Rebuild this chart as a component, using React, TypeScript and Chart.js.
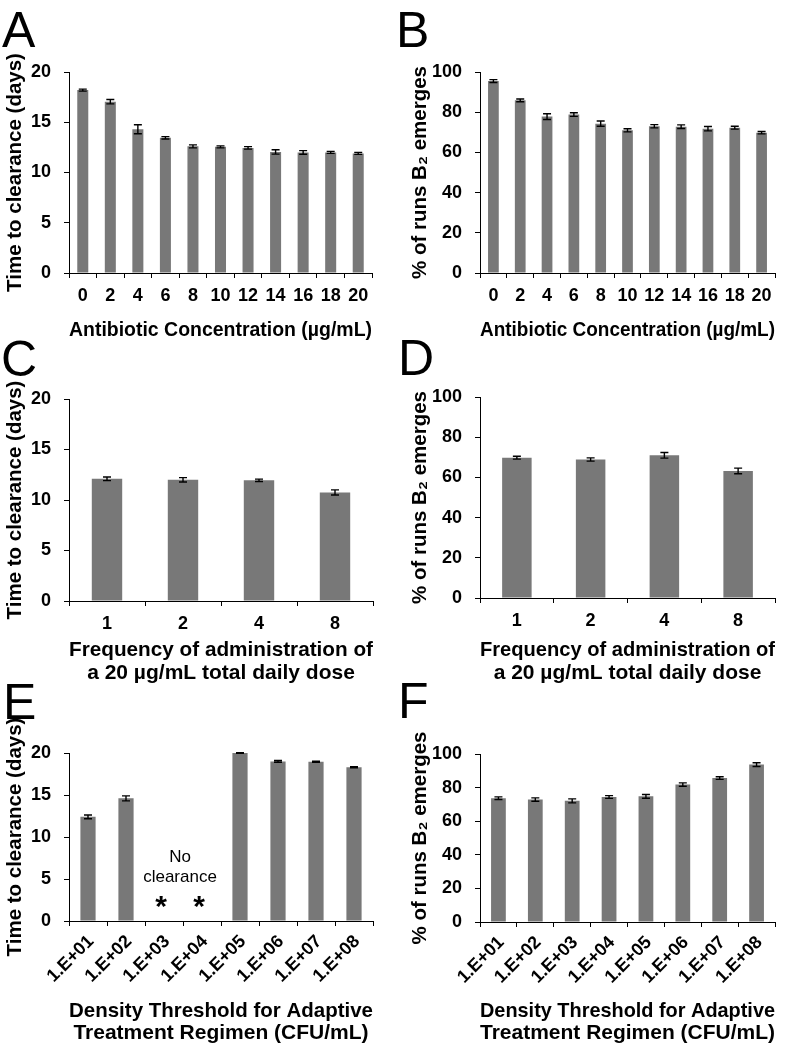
import React, { useEffect, useRef } from "react";
import { Chart, registerables } from "chart.js";

Chart.register(...registerables);

const FONT = "'Liberation Sans', Arial, Helvetica, sans-serif";

// ---------- data ----------
const concLabels = ["0", "2", "4", "6", "8", "10", "12", "14", "16", "18", "20"];
const clearanceByConc = [18.2, 17.05, 14.3, 13.45, 12.6, 12.55, 12.45, 12.05, 12.0, 12.0, 11.9];
const clearanceByConcErr = [0.1, 0.22, 0.45, 0.12, 0.15, 0.1, 0.12, 0.22, 0.18, 0.1, 0.1];
const emergeByConc = [95.5, 85.9, 77.8, 78.8, 74.3, 71.0, 73.0, 72.8, 71.8, 72.3, 69.8];
const emergeByConcErr = [0.7, 0.7, 1.4, 0.9, 1.3, 0.8, 0.8, 0.9, 1.1, 0.7, 0.6];

const freqLabels = ["1", "2", "4", "8"];
const clearanceByFreq = [12.1, 12.0, 11.95, 10.75];
const clearanceByFreqErr = [0.18, 0.22, 0.12, 0.25];
const emergeByFreq = [69.8, 68.9, 71.0, 63.2];
const emergeByFreqErr = [0.7, 0.8, 1.4, 1.4];

const thresholdLabels = ["1.E+01", "1.E+02", "1.E+03", "1.E+04", "1.E+05", "1.E+06", "1.E+07", "1.E+08"];
const clearanceByThreshold: (number | null)[] = [12.4, 14.6, null, null, 20.0, 19.0, 18.95, 18.3];
const clearanceByThresholdErr = [0.22, 0.3, 0, 0, 0.03, 0.1, 0.07, 0.07];
const emergeByThreshold = [73.7, 72.9, 72.1, 74.4, 74.8, 81.8, 85.7, 93.7];
const emergeByThresholdErr = [0.8, 1.0, 1.2, 0.8, 1.1, 1.0, 0.8, 1.1];

const clearanceTitle = "Time to clearance (days)";
const emergeTitle = "% of runs B\u2082 emerges";
const concTitle = "Antibiotic Concentration (\u00b5g/mL)";
const freqTitle = ["Frequency of administration of", "a 20 \u00b5g/mL total daily dose"];
const thresholdTitle = ["Density Threshold for Adaptive", "Treatment Regimen (CFU/mL)"];

// ---------- plugins ----------
const errorBarPlugin = {
  id: "errorBars",
  afterDatasetsDraw(chart: any, _args: any, opts: any) {
    const errs: number[] = opts && opts.errors;
    if (!errs) return;
    const meta = chart.getDatasetMeta(0);
    const y = chart.scales.y;
    const ctx = chart.ctx;
    const data = chart.data.datasets[0].data;
    ctx.save();
    ctx.strokeStyle = "#000";
    ctx.lineWidth = 1.4;
    meta.data.forEach((bar: any, i: number) => {
      const v = data[i];
      if (v == null) return;
      const e = errs[i] || 0;
      const top = y.getPixelForValue(v + e);
      const bot = y.getPixelForValue(v - e);
      const x = bar.x;
      ctx.beginPath();
      ctx.moveTo(x, top);
      ctx.lineTo(x, bot);
      ctx.moveTo(x - 4, top);
      ctx.lineTo(x + 4, top);
      ctx.moveTo(x - 4, bot);
      ctx.lineTo(x + 4, bot);
      ctx.stroke();
    });
    ctx.restore();
  },
};

const noClearancePlugin = {
  id: "noClearance",
  afterDraw(chart: any, _args: any, opts: any) {
    if (!opts || !opts.enabled) return;
    const data = chart.data.datasets[0].data;
    const idx: number[] = [];
    data.forEach((v: any, i: number) => {
      if (v == null) idx.push(i);
    });
    if (!idx.length) return;
    const x = chart.scales.x;
    const y = chart.scales.y;
    const ctx = chart.ctx;
    const xs = idx.map((i) => x.getPixelForValue(i) - 3);
    const cx = (xs[0] + xs[xs.length - 1]) / 2;
    ctx.save();
    ctx.fillStyle = "#000";
    ctx.textAlign = "center";
    ctx.textBaseline = "middle";
    ctx.font = `17px ${FONT}`;
    ctx.fillText("No", cx, y.getPixelForValue(7.6));
    ctx.fillText("clearance", cx, y.getPixelForValue(5.2));
    ctx.font = `bold 30px ${FONT}`;
    ctx.textBaseline = "alphabetic";
    const ay = y.getPixelForValue(2.5) + 16;
    xs.forEach((px) => ctx.fillText("*", px, ay));
    ctx.restore();
  },
};

// ---------- panels ----------
type Spec = {
  key: string;
  letter: string;
  letterLeft: number;
  letterTop: number;
  left: number;
  top: number;
  width: number;
  height: number;
  area: { l: number; t: number; r: number; b: number };
  labels: string[];
  values: (number | null)[];
  errors: number[];
  yMax: number;
  yStep: number;
  yTitle: string;
  yTitlePad: number;
  xTitle: string | string[];
  xTitlePad: number;
  xTitleLH: number;
  rotate: boolean;
  noClearance?: boolean;
};

const specs: Spec[] = [
  {
    key: "A", letter: "A", letterLeft: 2, letterTop: 5,
    left: 0, top: 0, width: 392, height: 346,
    area: { l: 69, t: 72, r: 372, b: 273 },
    labels: concLabels, values: clearanceByConc, errors: clearanceByConcErr,
    yMax: 20, yStep: 5, yTitle: clearanceTitle, yTitlePad: 3,
    xTitle: concTitle, xTitlePad: 4, xTitleLH: 1.15, rotate: false,
  },
  {
    key: "B", letter: "B", letterLeft: 396, letterTop: 5,
    left: 392, top: 0, width: 393, height: 346,
    area: { l: 88, t: 72, r: 383, b: 273 },
    labels: concLabels, values: emergeByConc, errors: emergeByConcErr,
    yMax: 100, yStep: 20, yTitle: emergeTitle, yTitlePad: 16,
    xTitle: concTitle, xTitlePad: 4, xTitleLH: 1.15, rotate: false,
  },
  {
    key: "C", letter: "C", letterLeft: 1, letterTop: 334,
    left: 0, top: 340, width: 392, height: 348,
    area: { l: 69, t: 59, r: 373, b: 261 },
    labels: freqLabels, values: clearanceByFreq, errors: clearanceByFreqErr,
    yMax: 20, yStep: 5, yTitle: clearanceTitle, yTitlePad: 3,
    xTitle: freqTitle, xTitlePad: 3, xTitleLH: 1.12, rotate: false,
  },
  {
    key: "D", letter: "D", letterLeft: 398, letterTop: 333,
    left: 392, top: 340, width: 393, height: 348,
    area: { l: 88, t: 57, r: 383, b: 258 },
    labels: freqLabels, values: emergeByFreq, errors: emergeByFreqErr,
    yMax: 100, yStep: 20, yTitle: emergeTitle, yTitlePad: 16,
    xTitle: freqTitle, xTitlePad: 3, xTitleLH: 1.12, rotate: false,
  },
  {
    key: "E", letter: "E", letterLeft: 3, letterTop: 677,
    left: 0, top: 680, width: 392, height: 370,
    area: { l: 69, t: 73, r: 373, b: 241 },
    labels: thresholdLabels, values: clearanceByThreshold, errors: clearanceByThresholdErr,
    yMax: 20, yStep: 5, yTitle: clearanceTitle, yTitlePad: 3,
    xTitle: thresholdTitle, xTitlePad: 5, xTitleLH: 1.08, rotate: true, noClearance: true,
  },
  {
    key: "F", letter: "F", letterLeft: 398, letterTop: 676,
    left: 392, top: 680, width: 393, height: 370,
    area: { l: 88, t: 74, r: 383, b: 242 },
    labels: thresholdLabels, values: emergeByThreshold, errors: emergeByThresholdErr,
    yMax: 100, yStep: 20, yTitle: emergeTitle, yTitlePad: 16,
    xTitle: thresholdTitle, xTitlePad: 5, xTitleLH: 1.08, rotate: true,
  },
];

function Panel({ spec }: { spec: Spec }) {
  const ref = useRef<HTMLCanvasElement>(null);
  useEffect(() => {
    const canvas = ref.current;
    if (!canvas) return;
    const s = spec;
    const chart = new Chart(canvas, {
      type: "bar",
      data: {
        labels: s.labels,
        datasets: [
          {
            data: s.values as any,
            backgroundColor: "#787878",
            borderWidth: 0,
            barPercentage: 0.4,
            categoryPercentage: 1.0,
          },
        ],
      },
      plugins: [errorBarPlugin, noClearancePlugin],
      options: {
        responsive: false,
        animation: false,
        devicePixelRatio: 1,
        events: [],
        layout: {
          padding: { left: 0, top: s.area.t, right: s.width - s.area.r, bottom: 0 },
        },
        plugins: {
          legend: { display: false },
          tooltip: { enabled: false },
          title: { display: false },
          errorBars: { errors: s.errors },
          noClearance: { enabled: !!s.noClearance },
        } as any,
        scales: {
          x: {
            type: "category",
            offset: true,
            grid: {
              offset: true,
              drawOnChartArea: false,
              drawTicks: true,
              tickLength: 5,
              color: "#000",
              lineWidth: 1,
            },
            border: { display: true, color: "#000", width: 1 },
            ticks: {
              color: "#000",
              font: { family: FONT, size: 18, weight: "bold" },
              padding: s.rotate ? 5 : 7,
              labelOffset: s.rotate ? 3 : 0,
              autoSkip: false,
              maxRotation: s.rotate ? 45 : 0,
              minRotation: s.rotate ? 45 : 0,
            },
            title: {
              display: true,
              text: s.xTitle as any,
              color: "#000",
              font: { family: FONT, size: 21, weight: "bold", lineHeight: s.xTitleLH },
              padding: { top: 0, bottom: s.xTitlePad },
            },
            afterFit: (scale: any) => {
              scale.height = s.height - s.area.b;
            },
          },
          y: {
            min: 0,
            max: s.yMax,
            grid: {
              drawOnChartArea: false,
              drawTicks: true,
              tickLength: 5,
              color: "#000",
              lineWidth: 1,
            },
            border: { display: true, color: "#000", width: 1 },
            ticks: {
              stepSize: s.yStep,
              color: "#000",
              font: { family: FONT, size: 18, weight: "bold" },
              padding: 13,
            },
            title: {
              display: true,
              text: s.yTitle,
              color: "#000",
              font: { family: FONT, size: 20.5, weight: "bold", lineHeight: 1.2 },
              padding: { top: s.yTitlePad, bottom: 0 },
            },
            afterFit: (scale: any) => {
              scale.width = s.area.l;
            },
          },
        },
      } as any,
    });
    return () => chart.destroy();
  }, [spec]);
  return (
    <canvas
      ref={ref}
      width={spec.width}
      height={spec.height}
      style={{
        position: "absolute",
        left: spec.left,
        top: spec.top,
        width: spec.width,
        height: spec.height,
        display: "block",
      }}
    />
  );
}

export default function App() {
  return (
    <div
      style={{
        position: "absolute",
        left: 0,
        top: 0,
        width: 785,
        height: 1050,
        background: "#fff",
        overflow: "hidden",
      }}
    >
      {specs.map((s) => (
        <Panel key={s.key} spec={s} />
      ))}
      {specs.map((s) => (
        <div
          key={"L" + s.key}
          style={{
            position: "absolute",
            left: s.letterLeft,
            top: s.letterTop,
            fontFamily: FONT,
            fontSize: 50,
            lineHeight: "50px",
            color: "#000",
            pointerEvents: "none",
          }}
        >
          {s.letter}
        </div>
      ))}
    </div>
  );
}
